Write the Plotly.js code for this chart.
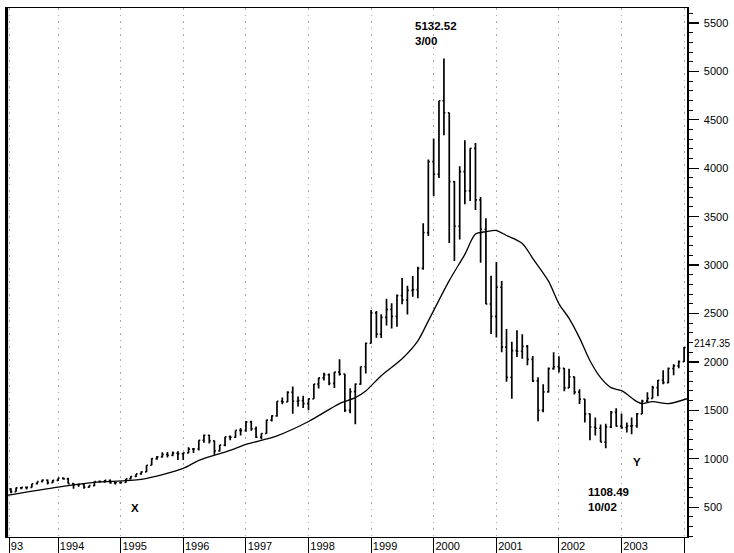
<!DOCTYPE html>
<html>
<head>
<meta charset="utf-8">
<script src="https://cdn.plot.ly/plotly-3.0.1.min.js"></script>
<style>html,body{margin:0;padding:0;background:#fff;}#chart{width:734px;height:553px;}</style>
</head>
<body>
<div id="chart"></div>
<script>
// Monthly bars, Apr 1993 - Jan 2004
const months = [
 '1993-04-01','1993-05-01','1993-06-01','1993-07-01','1993-08-01','1993-09-01','1993-10-01','1993-11-01','1993-12-01',
 '1994-01-01','1994-02-01','1994-03-01','1994-04-01','1994-05-01','1994-06-01','1994-07-01','1994-08-01','1994-09-01','1994-10-01','1994-11-01','1994-12-01',
 '1995-01-01','1995-02-01','1995-03-01','1995-04-01','1995-05-01','1995-06-01','1995-07-01','1995-08-01','1995-09-01','1995-10-01','1995-11-01','1995-12-01',
 '1996-01-01','1996-02-01','1996-03-01','1996-04-01','1996-05-01','1996-06-01','1996-07-01','1996-08-01','1996-09-01','1996-10-01','1996-11-01','1996-12-01',
 '1997-01-01','1997-02-01','1997-03-01','1997-04-01','1997-05-01','1997-06-01','1997-07-01','1997-08-01','1997-09-01','1997-10-01','1997-11-01','1997-12-01',
 '1998-01-01','1998-02-01','1998-03-01','1998-04-01','1998-05-01','1998-06-01','1998-07-01','1998-08-01','1998-09-01','1998-10-01','1998-11-01','1998-12-01',
 '1999-01-01','1999-02-01','1999-03-01','1999-04-01','1999-05-01','1999-06-01','1999-07-01','1999-08-01','1999-09-01','1999-10-01','1999-11-01','1999-12-01',
 '2000-01-01','2000-02-01','2000-03-01','2000-04-01','2000-05-01','2000-06-01','2000-07-01','2000-08-01','2000-09-01','2000-10-01','2000-11-01','2000-12-01',
 '2001-01-01','2001-02-01','2001-03-01','2001-04-01','2001-05-01','2001-06-01','2001-07-01','2001-08-01','2001-09-01','2001-10-01','2001-11-01','2001-12-01',
 '2002-01-01','2002-02-01','2002-03-01','2002-04-01','2002-05-01','2002-06-01','2002-07-01','2002-08-01','2002-09-01','2002-10-01','2002-11-01','2002-12-01',
 '2003-01-01','2003-02-01','2003-03-01','2003-04-01','2003-05-01','2003-06-01','2003-07-01','2003-08-01','2003-09-01','2003-10-01','2003-11-01','2003-12-01',
 '2004-01-01'
];
const openV = [
 690,661,700,704,705,742,763,779,754,
 777,800,793,743,733,735,706,722,765,764,777,750,
 752,755,793,817,843,865,933,1001,1020,1044,1036,1059,
 1052,1060,1100,1101,1191,1243,1185,1081,1141,1227,1222,1293,
 1291,1380,1309,1222,1261,1400,1442,1594,1587,1686,1594,1601,
 1570,1619,1771,1835,1869,1779,1895,1873,1499,1694,1771,1950,
 2193,2506,2288,2461,2543,2471,2686,2638,2739,2746,2967,3336,
 4069,3940,4697,4573,3861,3401,3966,3767,4206,3673,3370,2598,
 2471,2773,2152,1840,2116,2110,2161,2027,1805,1499,1690,1931,
 1950,1934,1731,1845,1688,1616,1463,1328,1315,1172,1330,1479,
 1336,1321,1338,1341,1464,1596,1623,1735,1810,1787,1932,1960,
 2003
];
const highV = [
 695,703,708,712,743,763,787,785,780,
 800,806,803,750,741,740,724,766,775,781,786,752,
 766,793,820,843,868,933,1005,1028,1068,1071,1074,1078,
 1063,1118,1112,1191,1250,1247,1189,1143,1227,1241,1293,1317,
 1390,1392,1332,1263,1402,1449,1594,1632,1697,1745,1642,1650,
 1620,1771,1836,1889,1880,1897,2028,1877,1728,1778,1952,2200,
 2535,2527,2492,2652,2606,2697,2866,2787,2887,2984,3433,4090,
 4304,4697,5132.52,4574,3869,4020,4289,4207,4260,3704,3483,2889,
 3032,2836,2340,2208,2326,2287,2175,2061,1842,1769,1942,2099,
 2059,1936,1929,1850,1718,1618,1468,1427,1355,1361,1492,1521,
 1467,1375,1426,1472,1609,1686,1754,1813,1914,1942,1977,2015,
 2153
];
const lowV = [
 645,659,685,683,703,733,758,735,750,
 770,783,741,691,712,691,700,718,756,751,741,735,
 742,753,789,811,836,863,933,990,1013,1013,1026,988,
 988,1056,1059,1086,1165,1157,1042,1074,1130,1190,1216,1240,
 1280,1290,1215,1201,1259,1385,1435,1562,1586,1465,1539,1525,
 1500,1616,1726,1808,1758,1730,1860,1484,1470,1357,1765,1880,
 2190,2249,2248,2377,2344,2364,2595,2490,2672,2658,2951,3300,
 3712,3900,4342,3227,3042,3265,3628,3663,3569,3025,2596,2288,
 2251,2100,1794,1619,2052,2034,1966,1793,1387,1480,1683,1920,
 1892,1696,1731,1664,1565,1375,1192,1240,1172,1108.49,1318,1333,
 1311,1271,1253,1320,1462,1586,1622,1646,1770,1781,1862,1935,
 2000
];
const closeV = [
 661,700,704,705,742,763,779,754,777,
 800,793,743,733,735,706,722,765,764,777,750,752,
 755,793,817,843,865,933,1001,1020,1044,1036,1059,1052,
 1060,1100,1101,1191,1243,1185,1081,1141,1227,1222,1293,1291,
 1380,1309,1222,1261,1400,1442,1594,1587,1686,1594,1601,1570,
 1619,1771,1835,1869,1779,1895,1873,1499,1694,1771,1950,2193,
 2506,2288,2461,2543,2471,2686,2638,2739,2746,2967,3336,4069,
 3940,4697,4573,3861,3401,3966,3767,4206,3673,3370,2598,2471,
 2773,2152,1840,2116,2110,2161,2027,1805,1499,1690,1931,1950,
 1934,1731,1845,1688,1616,1463,1328,1315,1172,1330,1479,1336,
 1321,1338,1341,1464,1596,1623,1735,1810,1787,1932,1960,2003,
 2147.35
];
// Moving average line
const maDates = ['1993-03-09','1994-01-01','1994-08-01','1995-05-01','1996-01-01','1996-04-01','1996-10-01','1997-01-01','1997-07-01','1998-01-01','1998-07-01','1998-10-01','1998-12-01','1999-03-01','1999-07-01','1999-10-01','1999-12-01','2000-04-01','2000-07-01','2000-09-01','2000-11-01','2001-01-01','2001-03-01','2001-06-01','2001-08-01','2001-11-01','2002-01-01','2002-03-01','2002-05-01','2002-07-01','2002-09-01','2002-11-01','2003-01-01','2003-04-01','2003-05-01','2003-07-01','2003-10-01','2004-01-18'];
const maValues = [622,708,757,788,901,983,1086,1148,1237,1385,1570,1632,1700,1858,2033,2218,2424,2840,3111,3320,3345,3357,3306,3224,3070,2834,2600,2450,2248,2012,1837,1734,1703,1590,1570,1590,1570,1620];

// Axis ticks
const yearTicks = ['1993-03-21','1994-01-01','1995-01-01','1996-01-01','1997-01-01','1998-01-01','1999-01-01','2000-01-01','2001-01-01','2002-01-01','2003-01-01','2004-01-01'];
const yearLabels = ['93\u00a0\u00a0\u00a0\u00a0','1994','1995','1996','1997','1998','1999','2000','2001','2002','2003',''];
const priceTicks = [500,1000,1500,2000,2500,3000,3500,4000,4500,5000,5500];

const bars = {
  type:'ohlc', x:months, open:openV, high:highV, low:lowV, close:closeV,
  increasing:{line:{color:'#000', width:1.7}},
  decreasing:{line:{color:'#000', width:1.7}},
  tickwidth:0.3, hoverinfo:'skip'
};
const ma = {
  type:'scatter', mode:'lines', x:maDates, y:maValues,
  line:{color:'#000', width:1.3, shape:'spline', smoothing:0.8}, hoverinfo:'skip'
};

const bold = {family:'Liberation Sans, Arial, sans-serif', size:11.5, color:'#000', weight:'bold'};
const layout = {
  width:734, height:553,
  margin:{l:7, r:47, t:8, b:16},
  paper_bgcolor:'#fff', plot_bgcolor:'#fff',
  showlegend:false,
  font:{family:'Liberation Sans, Arial, sans-serif', size:11, color:'#000'},
  xaxis:{
    type:'date', range:['1993-03-09','2004-01-18'],
    tickmode:'array', tickvals:yearTicks, ticktext:yearLabels,
    ticks:'outside', ticklen:16, tickwidth:1, tickcolor:'#000',
    ticklabelstandoff:-17, ticklabelshift:14,
    showgrid:true, gridcolor:'#a8a8a8', griddash:'1.5px,5px', gridwidth:1,
    showline:true, linecolor:'#000', linewidth:1.2, mirror:true,
    zeroline:false, rangeslider:{visible:false}, fixedrange:true
  },
  yaxis:{
    side:'right', range:[192,5655],
    tickmode:'array', tickvals:priceTicks,
    ticks:'outside', ticklen:10, tickwidth:1.2, tickcolor:'#000',
    ticklabelstandoff:3,
    minor:{dtick:100, tick0:0, ticks:'outside', ticklen:4, tickcolor:'#000', tickwidth:1, showgrid:false},
    showgrid:false, showline:true, linecolor:'#000', linewidth:1.6, mirror:true,
    zeroline:false, fixedrange:true
  },
  shapes:[
    {type:'line', xref:'paper', yref:'paper', x0:0, x1:0, y0:0, y1:1, line:{color:'#000', width:2.2}}
  ],
  annotations:[
    {xref:'x', yref:'y', x:'1999-09-05', y:5465, text:'5132.52', showarrow:false, xanchor:'left', yanchor:'middle', font:bold},
    {xref:'x', yref:'y', x:'1999-09-05', y:5310, text:'3/00', showarrow:false, xanchor:'left', yanchor:'middle', font:bold},
    {xref:'x', yref:'y', x:'2002-06-08', y:655, text:'1108.49', showarrow:false, xanchor:'left', yanchor:'middle', font:bold},
    {xref:'x', yref:'y', x:'2002-06-08', y:500, text:'10/02', showarrow:false, xanchor:'left', yanchor:'middle', font:bold},
    {xref:'x', yref:'y', x:'1995-03-25', y:490, text:'X', showarrow:false, xanchor:'center', yanchor:'middle', font:bold},
    {xref:'x', yref:'y', x:'2003-04-01', y:963, text:'Y', showarrow:false, xanchor:'center', yanchor:'middle', font:bold},
    {xref:'paper', yref:'y', x:1.0074, y:2186, text:'2147.35', showarrow:false, xanchor:'left', yanchor:'middle', font:{family:'Liberation Sans, Arial, sans-serif', size:10, color:'#000'}}
  ]
};
Plotly.newPlot('chart', [bars, ma], layout, {staticPlot:true, displayModeBar:false});
</script>
</body>
</html>
